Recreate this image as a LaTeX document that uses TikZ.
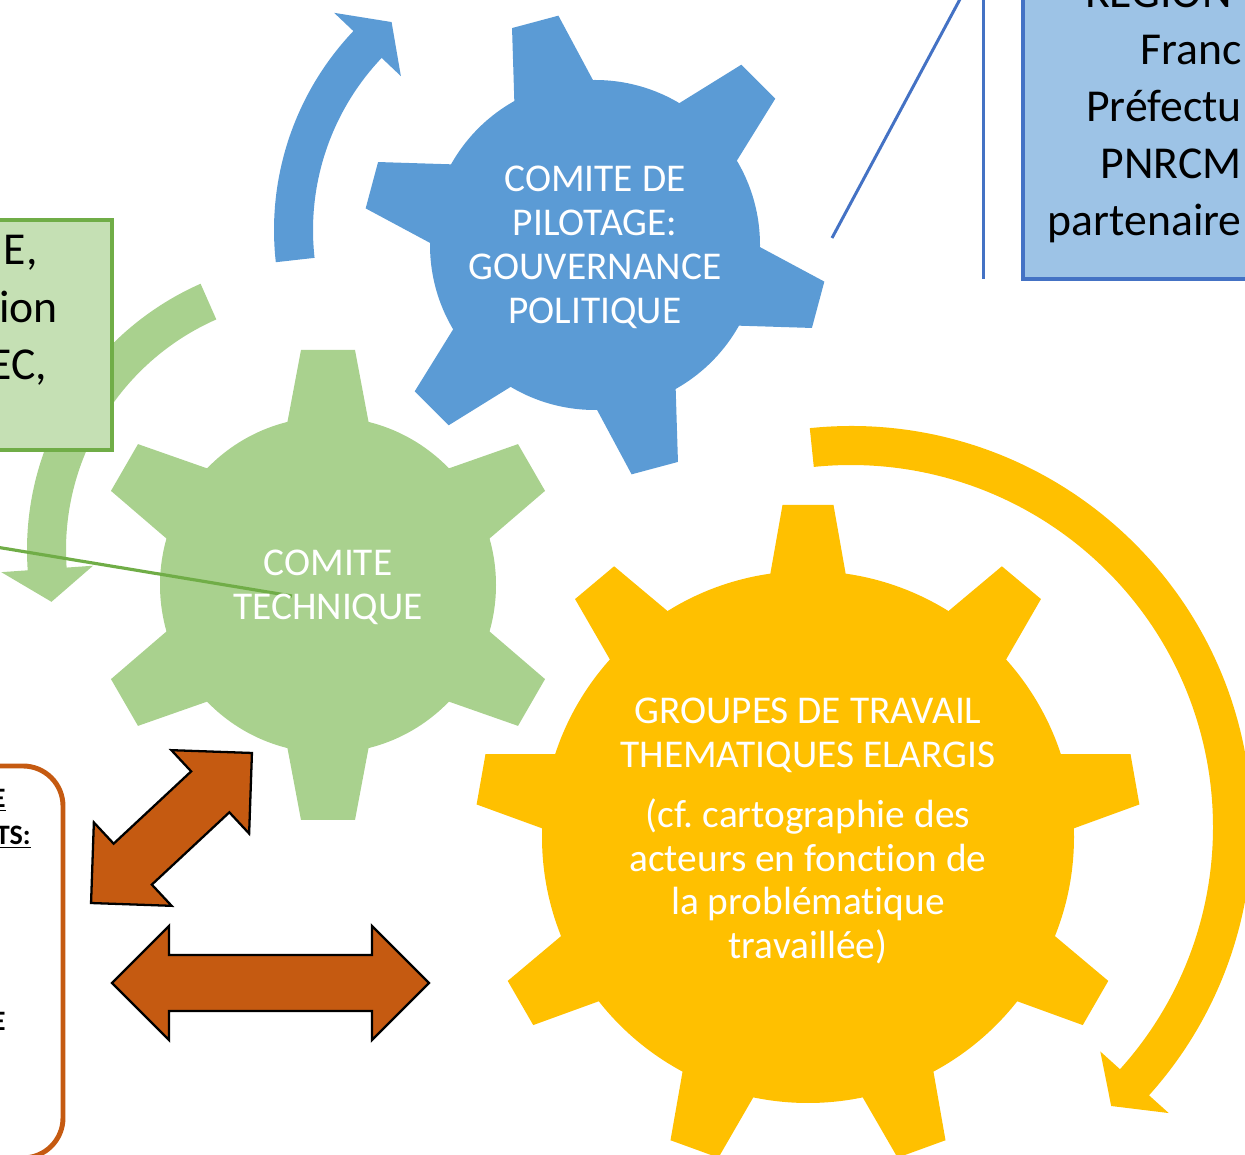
\documentclass[tikz,border=0pt]{standalone}
\usepackage{fontspec}
\setmainfont{Carlito}[Ligatures=NoCommon]
\frenchspacing
\definecolor{pilotblue}{HTML}{5B9BD5}
\definecolor{techgreen}{HTML}{A9D18E}
\definecolor{groupyellow}{HTML}{FFC000}
\definecolor{regionfill}{HTML}{9DC3E6}
\definecolor{regionline}{HTML}{4472C4}
\definecolor{partfill}{HTML}{C5E0B4}
\definecolor{partline}{HTML}{70AD47}
\definecolor{rust}{HTML}{C55A11}

\begin{document}
\begin{tikzpicture}[x=0.02cm,y=0.02cm,
	gearlabel/.style={text=white,align=center,font=\fontsize{22.4}{25}\selectfont},
	boxlabel/.style={anchor=base east,inner sep=0pt,font=\fontsize{26}{32}\selectfont},
	actlabel/.style={anchor=base east,inner sep=0pt,font=\fontsize{16}{19}\selectfont\bfseries},
	sidebox/.style={outer sep=0pt,line width=1.8pt},
	rustarrow/.style={fill=rust,draw=black,line width=1.3pt,line join=miter},
	bluelink/.style={draw=regionline,line width=1.7pt},
	greenlink/.style={draw=partline,line width=1.8pt}]
			\useasboundingbox (0,0) rectangle (1245,1154);
			\clip (0,0) rectangle (1245,1154);

			\fill[pilotblue, shift={(563,924)}] (186.4:289) arc[start angle=186.4, end angle=136.5, radius=289]
				-- (136.5:315.5) -- (129.5:269.5) -- (136.5:223.5) -- (136.5:250)
				arc[start angle=136.5, end angle=186.4, radius=250] -- cycle;
			\fill[techgreen, shift={(318,604)}] (113.8:291) arc[start angle=113.8, end angle=184, radius=291]
				-- (184:317.5) -- (191:271.5) -- (184:225.5) -- (184:252)
				arc[start angle=184, end angle=113.8, radius=252] -- cycle;
			\fill[groupyellow, shift={(851,327)}] (95.9:401) arc[start angle=95.9, end angle=-42, radius=401]
				-- (-42:427.5) -- (-47:381.5) -- (-42:335.5) -- (-42:362)
				arc[start angle=-42, end angle=95.9, radius=362] -- cycle;

			\foreach \a in {0,60,...,300}
				\fill[techgreen, shift={(328,569)}, rotate=\a] (-43,150) -- (-27,235) -- (27,235) -- (43,150) -- cycle;
			\fill[techgreen] (328,569) circle (168);
			\foreach \a in {15,75,...,315}
				\fill[pilotblue, shift={(595,909)}, rotate=\a] (-43,150) -- (-24,231) -- (24,231) -- (43,150) -- cycle;
			\fill[pilotblue] (595,909) circle (165);
			\foreach \a in {0,40,...,320}
				\fill[groupyellow, shift={(808,317)}, rotate=\a] (-40,250) -- (-25.5,332) -- (25.5,332) -- (40,250) -- cycle;
			\fill[groupyellow] (808,317) circle (266);

			\coordinate (pil_link) at (832,916);
			\coordinate (pil_free) at (966,1166);
			\coordinate (bar_low) at (983,875);
			\coordinate (bar_top) at (983,1166);
			\coordinate (tech_free) at (-10,608);
			\coordinate (tech_link) at (292,558);
			\draw[bluelink] (pil_link) -- (pil_free);
			\draw[bluelink] (bar_low) -- (bar_top);
			\draw[greenlink] (tech_free) -- (tech_link);

			\node[sidebox, draw=regionline, fill=regionfill, anchor=south west, minimum width=6cm, minimum height=6cm] (box_reg) at (1023,875) {};
			\node[sidebox, draw=partline, fill=partfill, anchor=north east, minimum width=4cm, minimum height=4.6cm] (box_part) at (112,934) {};
			\node[sidebox, draw=rust, line width=2.8pt, rounded corners=0.8cm, anchor=north east, minimum width=4cm, minimum height=7.84cm] (box_act) at (63,388) {};

			\foreach \cx/\cy/\len/\ang in {270.5/171/317/0, 171.5/326/220/43}
				\draw[rustarrow, shift={(\cx,\cy)}, rotate=\ang]
					({-\len/2},0) -- ({-\len/2+57},57) -- ({-\len/2+57},28) -- ({\len/2-57},28) -- ({\len/2-57},57)
					-- ({\len/2},0) -- ({\len/2-57},-57) -- ({\len/2-57},-28) -- ({-\len/2+57},-28) -- ({-\len/2+57},-57) -- cycle;

			\node[gearlabel] (c_pil) at (595,907) {COMITE DE\\PILOTAGE:\\GOUVERNANCE\\POLITIQUE};
			\node[gearlabel] (c_tech) at (328,567) {COMITE\\TECHNIQUE};
			\node[gearlabel] (g_trav) at (808,323) {GROUPES DE TRAVAIL\\THEMATIQUES ELARGIS\\[0.32cm](cf. cartographie des\\acteurs en fonction de\\la problématique\\travaillée)};

			\foreach \txt [count=\i] in {REGION\kern0.2cm, Franc, Préfectu, PNRCM, partenaire}
				\node[boxlabel] (reg_\i) at (1242,{1146-57*(\i-1)}) {\txt};
			\node[boxlabel] (part_1) at (38,889) {E,};
			\node[boxlabel] (part_2) at (58,831) {ion};
			\node[boxlabel] (part_3) at (47,774) {EC,};
			\node[actlabel] (act_1) at (6,346) {\underline{E}};
			\node[actlabel] (act_2) at (31,309) {\underline{TS:}};
			\node[actlabel] (act_3) at (6,124) {E};
		\end{tikzpicture}
\end{document}
